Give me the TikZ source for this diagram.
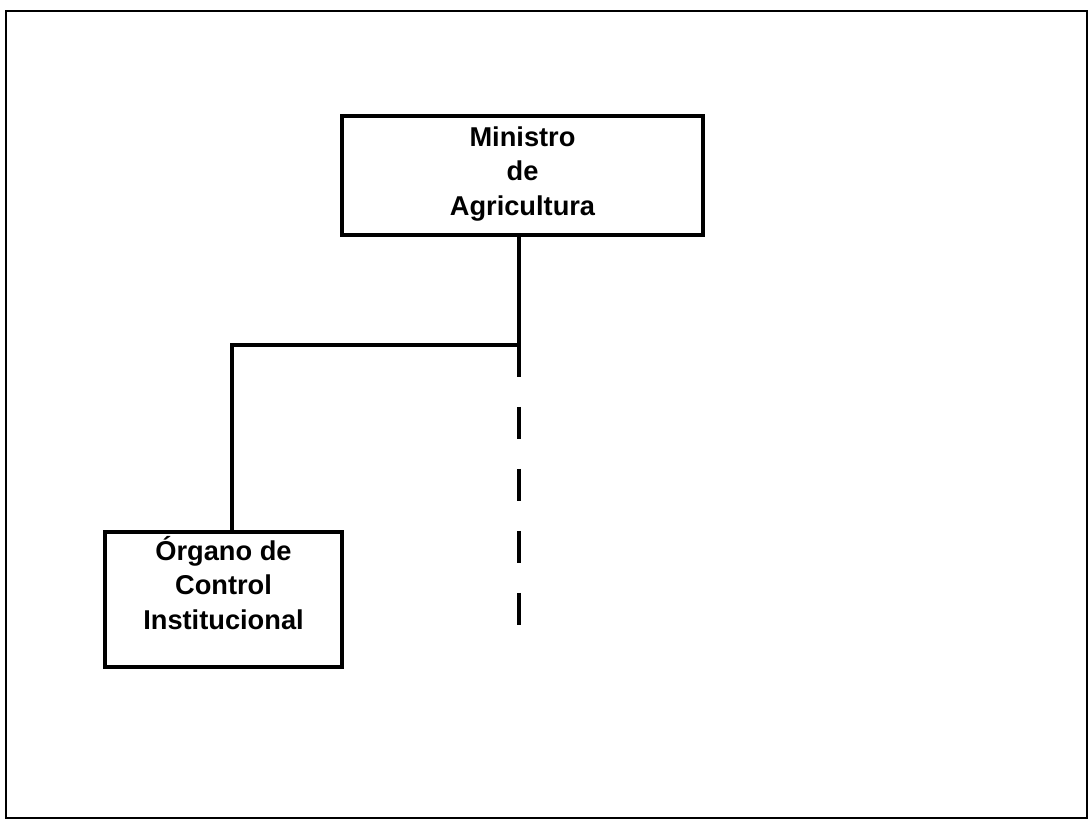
\documentclass[tikz,border=0pt]{standalone}
\usepackage{fontspec}
\setmainfont{Liberation Sans}
\usepackage{tikz}

\tikzset{
  orgbox/.style={draw, line width=2pt, align=center, inner sep=0pt},
  orgline/.style={line width=2pt},
}

\begin{document}
\begin{tikzpicture}[font=\fontsize{15.5}{19.5}\selectfont\bfseries, x=0.02cm, y=-0.02cm]
\useasboundingbox (0,0) rectangle (1091,825);
\draw[line width=1.5pt] (6,11) rectangle (1087,818);

\node[orgbox, minimum width=7.22cm, minimum height=2.38cm, text depth=5pt] (mina) at (522.5,175.5) {Ministro\\de\\Agricultura};
\node[orgbox, minimum width=4.74cm, minimum height=2.7cm, text depth=19pt] (oci) at (223.5,599.5) {Órgano de\\Control\\Institucional};

\coordinate (split) at (519,345);
\coordinate (dashend) at (519,626);
\draw[orgline] (split |- mina.south) -- (split) -| ([xshift=0.17cm]oci.north);
\draw[orgline, dash pattern=on 0.64cm off 0.6cm] (split) -- (dashend);
\end{tikzpicture}
\end{document}
